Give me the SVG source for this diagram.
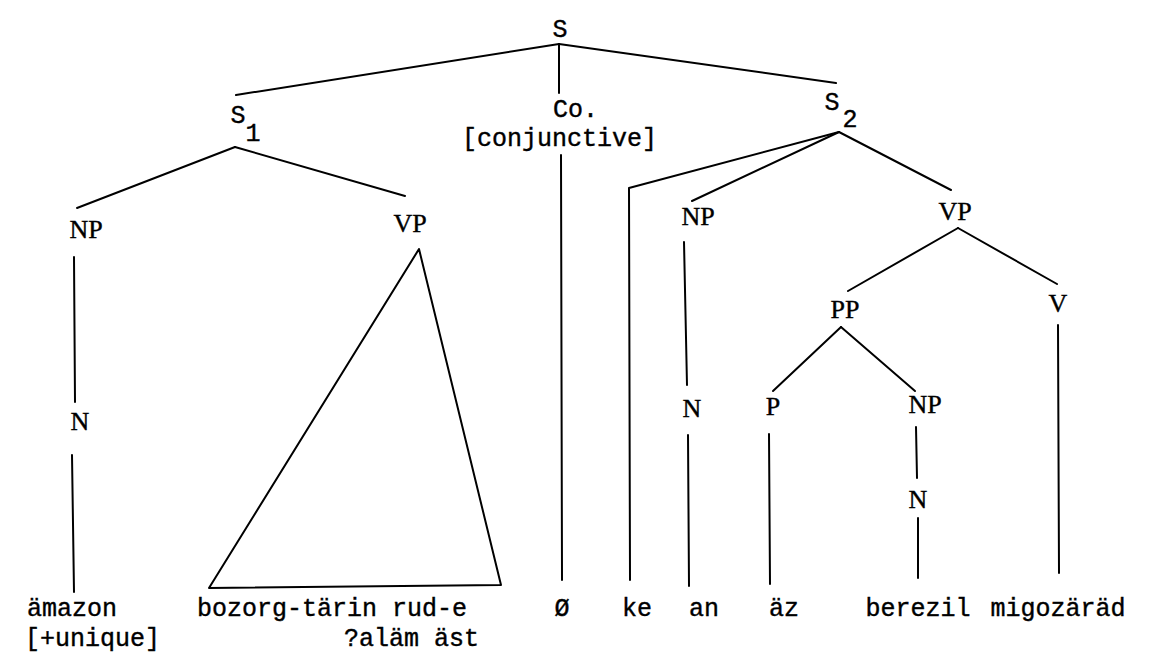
<svg xmlns="http://www.w3.org/2000/svg" width="1149" height="668" viewBox="0 0 1149 668">
<style>
.m{font-family:"Liberation Mono","Courier New",monospace;font-size:25px;fill:#000;stroke:#000;stroke-width:0.4}
.c{font-family:"Liberation Serif","Times New Roman",serif;font-size:26px;fill:#000;stroke:#000;stroke-width:0.4;text-anchor:middle}
.mid{text-anchor:middle}
.e line,.e polyline,.e polygon{stroke:#000;stroke-width:2;fill:none;stroke-linecap:round;stroke-linejoin:round}
</style>
<rect width="1149" height="668" fill="#fff"/>
<g id="connectors" class="e">
<line x1="559" y1="44" x2="236" y2="95"/>
<line x1="559" y1="44" x2="836" y2="83"/>
<line x1="559" y1="44" x2="559" y2="93"/>
<line x1="235" y1="147" x2="77" y2="208"/>
<line x1="235" y1="147" x2="405" y2="196"/>
<line x1="74" y1="257" x2="75" y2="402"/>
<line x1="72" y1="455" x2="74" y2="592"/>
<polygon points="419,249 209,588 501,585"/>
<line x1="561" y1="155" x2="562" y2="580"/>
<polyline points="839,132 629,188 630,580"/>
<line x1="839" y1="132" x2="692" y2="201"/>
<line x1="839" y1="132" x2="951" y2="190"/>
<line x1="684" y1="242" x2="687" y2="385"/>
<line x1="688" y1="435" x2="689" y2="586"/>
<line x1="958" y1="228" x2="848" y2="291"/>
<line x1="958" y1="228" x2="1057" y2="284"/>
<line x1="841" y1="327" x2="773" y2="391"/>
<line x1="841" y1="327" x2="915" y2="391"/>
<line x1="769" y1="434" x2="770" y2="584"/>
<line x1="916" y1="427" x2="917" y2="478"/>
<line x1="918" y1="518" x2="918" y2="578"/>
<line x1="1058" y1="325" x2="1059" y2="573"/>
</g>
<g id="S"><text class="m mid" x="560" y="37">S</text></g>
<g id="S1"><text class="m mid" x="238" y="123">S</text><text class="m mid" x="253" y="141">1</text></g>
<g id="Co"><text class="m" x="553" y="117">Co.</text><text class="m" x="462" y="146">[conjunctive]</text></g>
<g id="S2"><text class="m mid" x="832" y="110">S</text><text class="m mid" x="850" y="127">2</text></g>
<g id="NP1"><text class="c" x="86" y="238">NP</text></g>
<g id="VP1"><text class="c" x="410" y="232">VP</text></g>
<g id="N1"><text class="c" x="80" y="430">N</text></g>
<g id="NP2"><text class="c" x="698" y="225">NP</text></g>
<g id="N2"><text class="c" x="692" y="417">N</text></g>
<g id="VP2"><text class="c" x="955" y="220">VP</text></g>
<g id="PP"><text class="c" x="845" y="318">PP</text></g>
<g id="P"><text class="c" x="773" y="415">P</text></g>
<g id="NP3"><text class="c" x="925" y="413">NP</text></g>
<g id="N3"><text class="c" x="918" y="508">N</text></g>
<g id="V"><text class="c" x="1058" y="312">V</text></g>
<g id="w-amazon"><text class="m" x="27" y="616">ämazon</text><text class="m" x="25" y="646">[+unique]</text></g>
<g id="w-bozorg"><text class="m" x="197" y="616">bozorg-tärin rud-e</text><text class="m" x="344" y="646">?aläm äst</text></g>
<g id="w-zero"><text class="m mid" x="562" y="616">Ø</text></g>
<g id="w-ke"><text class="m mid" x="637" y="616">ke</text></g>
<g id="w-an"><text class="m mid" x="704" y="616">an</text></g>
<g id="w-az"><text class="m mid" x="784" y="616">äz</text></g>
<g id="w-berezil"><text class="m mid" x="918" y="616">berezil</text></g>
<g id="w-migo"><text class="m mid" x="1058" y="616">migozäräd</text></g>
</svg>
